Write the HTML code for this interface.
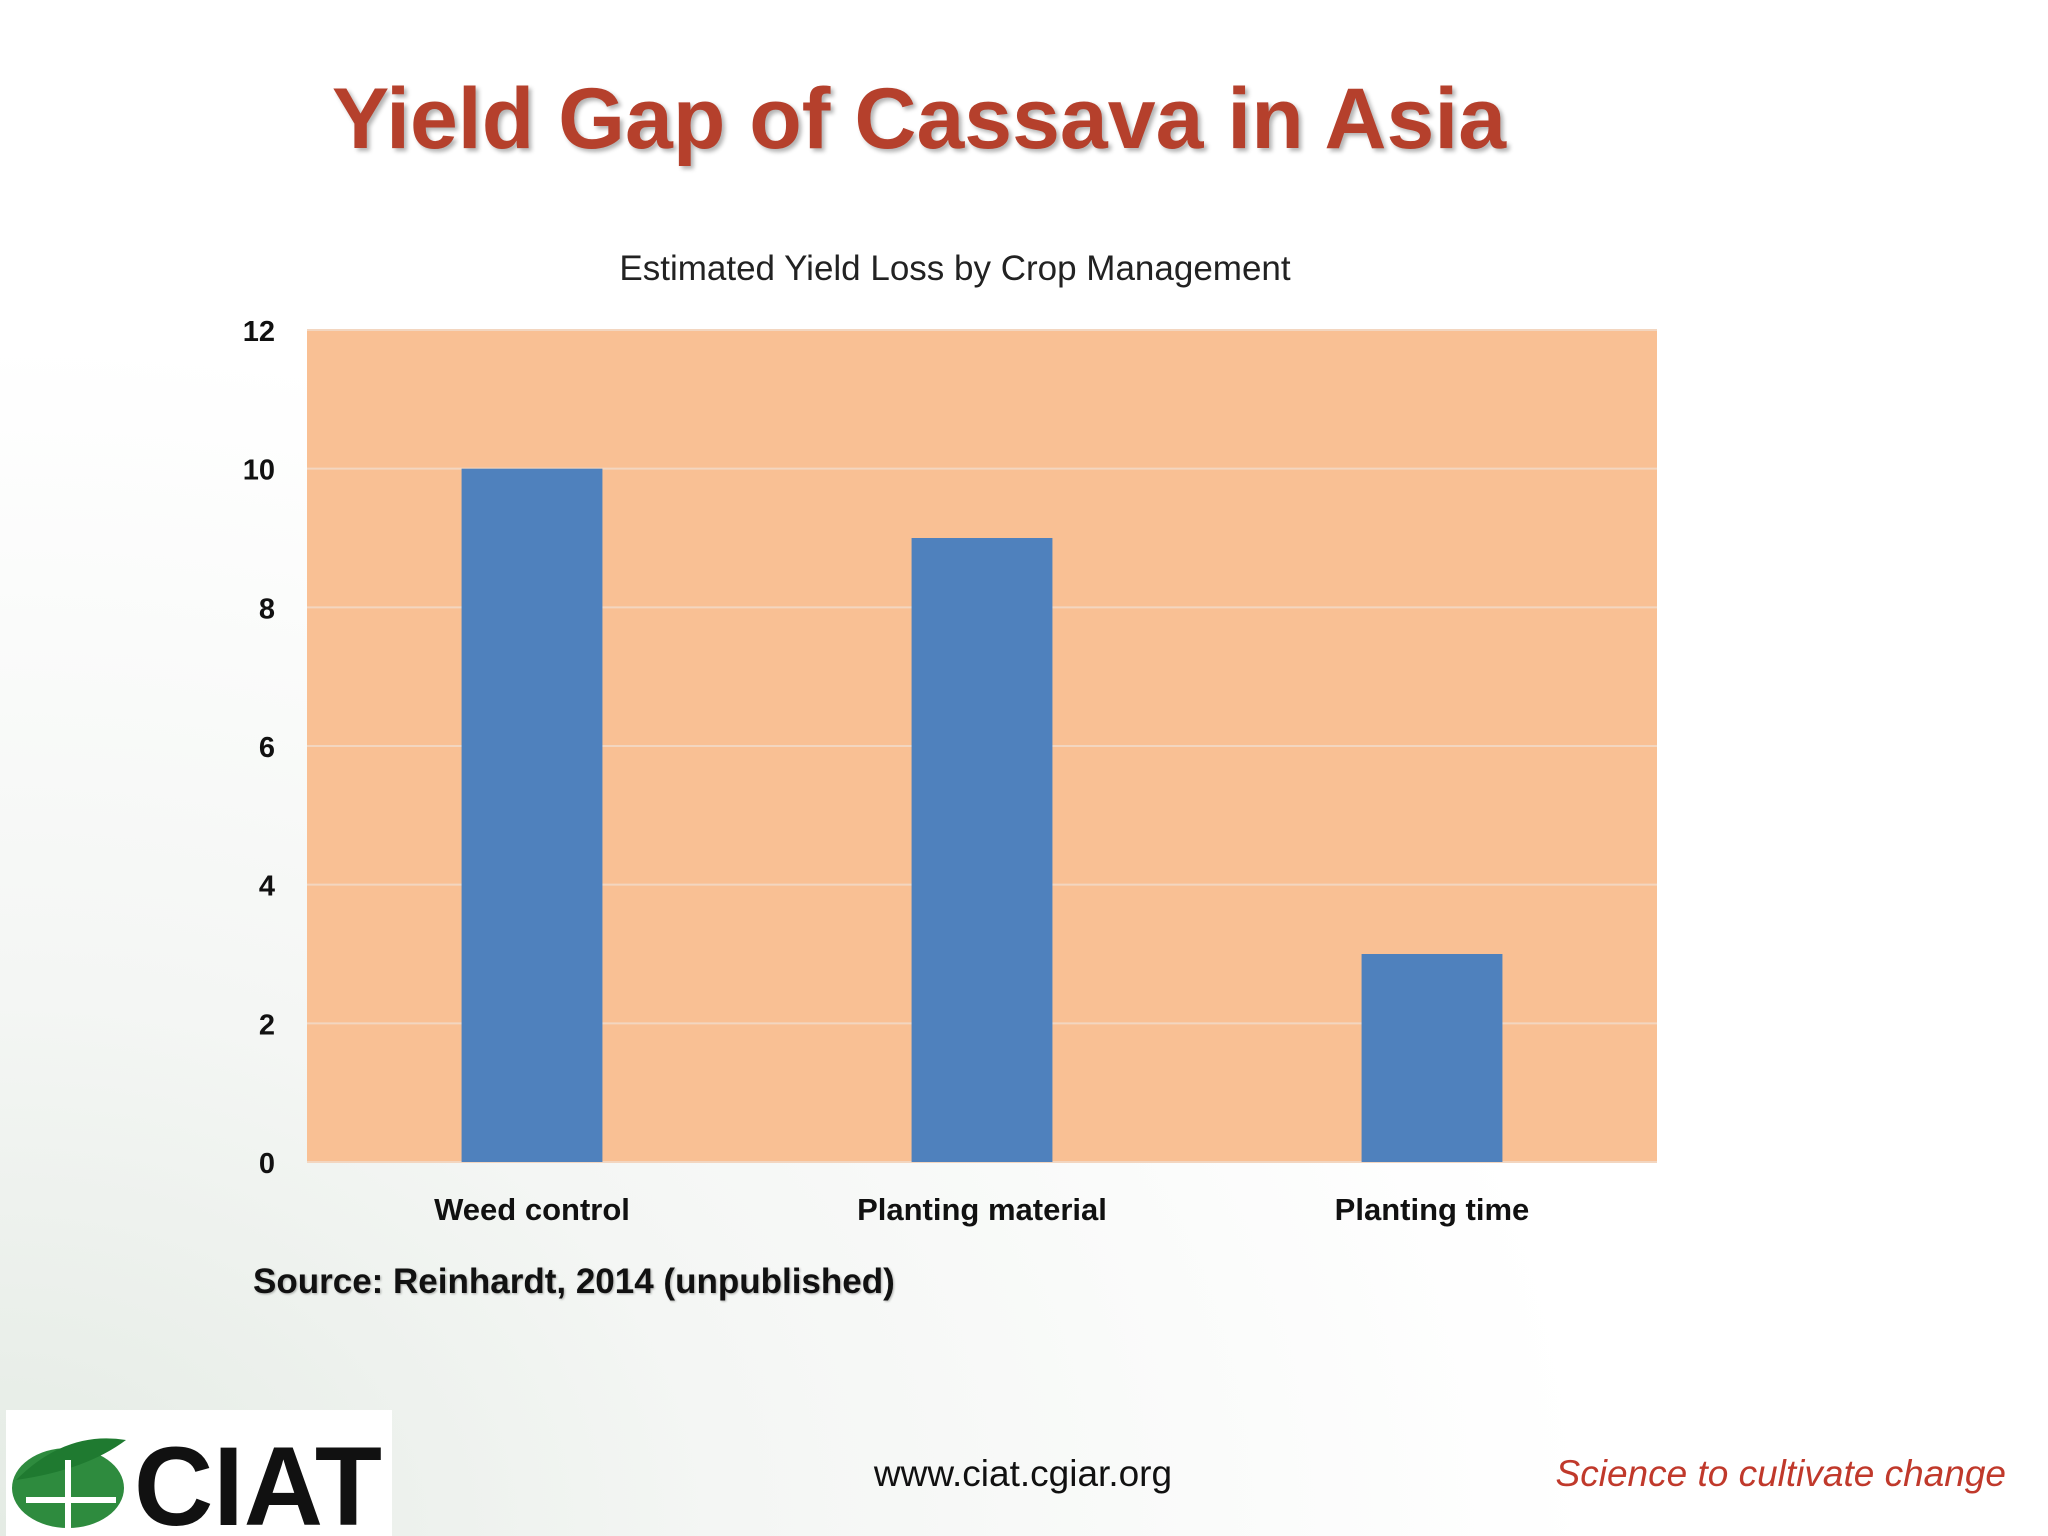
<!DOCTYPE html>
<html><head><meta charset="utf-8">
<style>
body{margin:0;width:2048px;height:1536px;overflow:hidden;background:#fff;font-family:"Liberation Sans",sans-serif;}
#page{position:relative;width:2048px;height:1536px;background:radial-gradient(ellipse at 0% 100%,#e4ebe4 0%,#f4f6f4 25%,#fff 55%);}
.title{position:absolute;left:0;width:1838px;top:70px;text-align:center;font-size:86px;font-weight:bold;color:#b5402c;text-shadow:3px 3px 4px rgba(0,0,0,0.3);}
.sub{position:absolute;left:455px;width:1000px;top:249px;text-align:center;font-size:35px;color:#222;}
.src{position:absolute;left:253px;top:1262px;font-size:35px;font-weight:bold;color:#111;text-shadow:1px 1px 2px rgba(0,0,0,0.3);}
.url{position:absolute;left:823px;width:400px;top:1453px;text-align:center;font-size:37px;color:#111;}
.tag{position:absolute;right:42px;top:1453px;font-size:37px;font-style:italic;color:#c0392b;}
</style></head><body>
<div id="page">
<div class="title">Yield Gap of Cassava in Asia</div>
<div class="sub">Estimated Yield Loss by Crop Management</div>
<svg id="chart" width="2048" height="1536" style="position:absolute;left:0;top:0"></svg>
<div class="src">Source: Reinhardt, 2014 (unpublished)</div>
<div class="url">www.ciat.cgiar.org</div>
<div class="tag">Science to cultivate change</div>
<svg style="position:absolute;left:6px;top:1410px" width="386" height="126">
<rect x="0" y="0" width="386" height="126" fill="#fff"/>
<ellipse cx="62" cy="78" rx="56" ry="40" fill="#2e8b3e"/>
<path d="M10 70 Q60 20 120 30 Q80 60 10 70Z" fill="#1f7a30"/>
<path d="M20 90 H110 M62 50 V120" stroke="#fff" stroke-width="6"/>
<text x="128" y="115" font-family="Liberation Sans,sans-serif" font-size="112" font-weight="bold" fill="#111" textLength="248" lengthAdjust="spacingAndGlyphs">CIAT</text>
</svg>
</div>
<script>
const categories=["Weed control","Planting material","Planting time"];
const values=[10,9,3];
const ticks=[0,2,4,6,8,10,12];
const NS="http://www.w3.org/2000/svg";
const svg=document.getElementById('chart');
const L=307,R=1657,T=330,B=1162,ymax=12;
const y=v=>B-(v/ymax)*(B-T);
const band=(R-L)/categories.length;
const x=i=>L+band*(i+0.5);
function mk(t,a){const e=document.createElementNS(NS,t);for(const k in a)e.setAttribute(k,a[k]);svg.appendChild(e);return e;}
const bg=mk('rect',{x:L,y:T,width:R-L,height:B-T,fill:'#f9c094'});


ticks.forEach(t=>{
 const g=mk('line',{x1:L,x2:R,y1:y(t),y2:y(t),stroke:'#f3d6c0','stroke-width':2});
 
 
 const l=mk('text',{x:275,y:y(t)+11,'text-anchor':'end','font-size':29,'font-weight':'bold',fill:'#111'});
 l.textContent=t;
 
 
});
const bw=band*0.313;
categories.forEach((c,i)=>{
 const b=mk('rect',{x:x(i)-bw/2,y:y(values[i]),width:bw,height:B-y(values[i]),fill:'#4f81bd'});
 
 
 const l=mk('text',{x:x(i),y:1220,'text-anchor':'middle','font-size':31,'font-weight':'bold',fill:'#111'});
 l.textContent=c;
 
 
});
</script>
</body></html>
